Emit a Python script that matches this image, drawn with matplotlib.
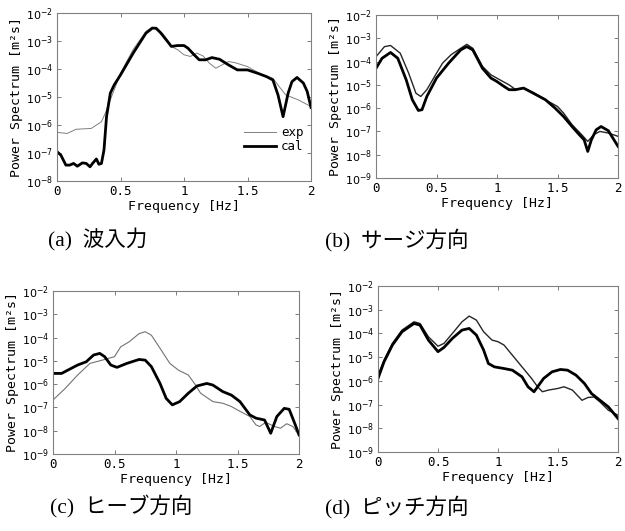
import numpy as np
import matplotlib
matplotlib.use('Agg')
from matplotlib import pyplot as plt

# (a) wave input - frequency [Hz] and log10 of power spectrum
fa_exp = [0, 0.08, 0.15, 0.27, 0.35, 0.38, 0.42, 0.5, 0.6, 0.7, 0.75, 0.8, 0.85, 0.9, 0.95, 1.0,
          1.05, 1.1, 1.15, 1.2, 1.25, 1.3, 1.35, 1.4, 1.5, 1.6, 1.7, 1.75, 1.8, 1.9, 2.0]
la_exp = [-6.26, -6.3, -6.15, -6.12, -5.88, -5.58, -5.1, -4.15, -3.3, -2.66, -2.5, -2.66, -2.95, -3.19,
          -3.31, -3.49, -3.55, -3.43, -3.53, -3.79, -3.97, -3.85, -3.73, -3.77, -3.91, -4.17, -4.33,
          -4.63, -4.92, -5.1, -5.34]
fa_cal = [0, 0.03, 0.07, 0.1, 0.13, 0.16, 0.2, 0.23, 0.26, 0.28, 0.31, 0.33, 0.35, 0.37, 0.39, 0.42,
          0.45, 0.5, 0.6, 0.7, 0.75, 0.78, 0.82, 0.87, 0.9, 0.95, 1.0, 1.03, 1.08, 1.12, 1.17, 1.22,
          1.28, 1.35, 1.42, 1.5, 1.58, 1.65, 1.7, 1.74, 1.78, 1.82, 1.85, 1.89, 1.94, 1.97, 2.0]
la_cal = [-6.95, -7.07, -7.43, -7.43, -7.37, -7.47, -7.35, -7.37, -7.49, -7.37, -7.21, -7.4, -7.37,
          -6.89, -5.7, -4.86, -4.57, -4.21, -3.43, -2.72, -2.54, -2.54, -2.72, -3.01, -3.19, -3.16,
          -3.16, -3.25, -3.49, -3.67, -3.67, -3.59, -3.65, -3.85, -4.03, -4.03, -4.15, -4.27, -4.39,
          -4.92, -5.7, -4.86, -4.45, -4.3, -4.5, -4.8, -5.37]

# (b) surge
fb_exp = [0, 0.07, 0.12, 0.2, 0.27, 0.33, 0.37, 0.42, 0.5, 0.55, 0.62, 0.68, 0.75, 0.8, 0.88, 0.95,
          1.05, 1.1, 1.15, 1.22, 1.3, 1.4, 1.5, 1.55, 1.62, 1.7, 1.75, 1.8, 1.85, 1.92, 2.0]
lb_exp = [-3.79, -3.36, -3.31, -3.64, -4.5, -5.36, -5.5, -5.21, -4.5, -4.07, -3.71, -3.5, -3.26, -3.43,
          -4.21, -4.57, -4.86, -5.0, -5.19, -5.14, -5.33, -5.64, -5.93, -6.21, -6.71, -7.14, -7.43,
          -7.14, -7.0, -7.07, -7.21]
fb_cal = [0, 0.05, 0.12, 0.18, 0.25, 0.3, 0.35, 0.38, 0.42, 0.5, 0.6, 0.7, 0.75, 0.8, 0.88, 0.95, 1.0,
          1.05, 1.1, 1.15, 1.22, 1.3, 1.4, 1.48, 1.55, 1.62, 1.68, 1.72, 1.75, 1.78, 1.82, 1.86, 1.92, 2.0]
lb_cal = [-4.29, -3.86, -3.61, -3.86, -4.79, -5.64, -6.1, -6.07, -5.5, -4.71, -4.07, -3.5, -3.36, -3.5,
          -4.29, -4.71, -4.86, -5.04, -5.21, -5.21, -5.14, -5.36, -5.64, -6.0, -6.36, -6.79, -7.14,
          -7.36, -7.86, -7.36, -6.93, -6.79, -6.97, -7.64]

# (c) heave
fc_exp = [0, 0.1, 0.2, 0.3, 0.4, 0.5, 0.55, 0.62, 0.7, 0.75, 0.8, 0.88, 0.95, 1.02, 1.1, 1.15, 1.2,
          1.3, 1.38, 1.45, 1.5, 1.6, 1.65, 1.68, 1.73, 1.8, 1.85, 1.9, 1.95, 2.0]
lc_exp = [-6.68, -6.18, -5.61, -5.11, -4.97, -4.82, -4.4, -4.18, -3.83, -3.75, -3.9, -4.54, -5.11,
          -5.4, -5.61, -5.97, -6.39, -6.75, -6.82, -6.96, -7.11, -7.39, -7.75, -7.82, -7.64, -7.82,
          -7.89, -7.7, -7.82, -8.18]
fc_cal = [0, 0.07, 0.12, 0.2, 0.27, 0.33, 0.38, 0.42, 0.47, 0.52, 0.6, 0.7, 0.75, 0.8, 0.87, 0.92,
          0.97, 1.03, 1.1, 1.17, 1.25, 1.3, 1.38, 1.45, 1.52, 1.6, 1.65, 1.72, 1.77, 1.82, 1.88, 1.92,
          1.97, 2.0]
lc_cal = [-5.54, -5.54, -5.4, -5.18, -5.04, -4.75, -4.68, -4.82, -5.18, -5.28, -5.11, -4.94, -4.97,
          -5.25, -5.97, -6.61, -6.89, -6.75, -6.39, -6.08, -5.97, -6.04, -6.32, -6.47, -6.75, -7.32,
          -7.46, -7.54, -8.11, -7.39, -7.04, -7.08, -7.75, -8.18]

# (d) pitch
fd_exp = [0, 0.05, 0.12, 0.2, 0.3, 0.35, 0.42, 0.5, 0.55, 0.62, 0.7, 0.76, 0.82, 0.88, 0.95, 1.0,
          1.05, 1.12, 1.2, 1.28, 1.33, 1.37, 1.42, 1.5, 1.55, 1.62, 1.7, 1.75, 1.8, 1.85, 1.92, 2.0]
ld_exp = [-5.76, -5.13, -4.42, -3.86, -3.51, -3.58, -4.14, -4.54, -4.42, -4.0, -3.51, -3.27, -3.44,
          -3.93, -4.28, -4.35, -4.49, -4.92, -5.41, -5.9, -6.25, -6.46, -6.39, -6.32, -6.25, -6.39,
          -6.82, -6.7, -6.68, -6.89, -7.24, -7.45]
fd_cal = [0, 0.05, 0.12, 0.2, 0.3, 0.35, 0.42, 0.5, 0.55, 0.62, 0.7, 0.76, 0.82, 0.88, 0.92, 0.97,
          1.05, 1.12, 1.2, 1.25, 1.3, 1.33, 1.38, 1.45, 1.52, 1.58, 1.65, 1.72, 1.78, 1.85, 1.92, 2.0]
ld_cal = [-5.9, -5.2, -4.49, -3.93, -3.58, -3.65, -4.28, -4.77, -4.59, -4.21, -3.86, -3.79, -4.07,
          -4.7, -5.27, -5.41, -5.48, -5.55, -5.83, -6.25, -6.46, -6.25, -5.9, -5.62, -5.52, -5.55,
          -5.76, -6.11, -6.54, -6.82, -7.1, -7.59]

captions = ['(a)  波入力', '(b)  サージ方向', '(c)  ヒーブ方向', '(d)  ピッチ方向']
xticks = [0, 0.5, 1, 1.5, 2]
xticklabels = ['0', '0.5', '1', '1.5', '2']

mono = 'DejaVu Sans Mono'

fig = plt.figure(figsize=(6.25, 5.31), dpi=100)

boxes = [[0.0912, 0.659, 0.4064, 0.3164],
         [0.6016, 0.6648, 0.3872, 0.307],
         [0.0848, 0.145, 0.3936, 0.307],
         [0.6048, 0.1488, 0.384, 0.3126]]
ylows = [-8, -9, -9, -9]
panels = [(fa_exp, la_exp, fa_cal, la_cal), (fb_exp, lb_exp, fb_cal, lb_cal),
          (fc_exp, lc_exp, fc_cal, lc_cal), (fd_exp, ld_exp, fd_cal, ld_cal)]
exp_cols = ['0.5', '0.15', '0.45', '0.15']
exp_lw = [0.7, 1.0, 0.8, 1.0]

for i in range(4):
    ax = fig.add_axes(boxes[i])
    fe, le, fcl, lcl = panels[i]
    ax.plot(fe, 10.0 ** np.array(le), color=exp_cols[i], lw=exp_lw[i], label='exp')
    ax.plot(fcl, 10.0 ** np.array(lcl), color='black', lw=2.0, label='cal')
    ax.set_yscale('log')
    ax.set_xlim(0, 2)
    ax.set_ylim(10.0 ** ylows[i], 1e-2)
    ax.set_yticks([10.0 ** k for k in range(ylows[i], -1)])
    ax.set_yticklabels(['$10^{%d}$' % k for k in range(ylows[i], -1)], fontsize=8)
    ax.minorticks_off()
    ax.set_xticks(xticks)
    ax.set_xticklabels(xticklabels, family=mono, fontsize=9)
    ax.tick_params(direction='in', top=True, right=True, length=3, width=0.6, color='0.4', pad=3)
    for s in ax.spines.values():
        s.set_color('0.5')
        s.set_linewidth(0.8)
    ax.set_xlabel('Frequency [Hz]', family=mono, fontsize=9.5, labelpad=1)
    ax.set_ylabel('Power Spectrum [m²s]', family=mono, fontsize=9.5, labelpad=2)
    if i == 0:
        ax.legend(loc='lower right', bbox_to_anchor=(1.0, 0.12), frameon=False,
                  prop={'family': mono, 'size': 9}, handlelength=2.6, handletextpad=0.4,
                  labelspacing=0.1, borderaxespad=0.2)

cap_pos = [(48, 240), (325, 240), (50, 507), (325, 507)]
for (x, y), t in zip(cap_pos, captions):
    fig.text(x / 625, 1 - y / 531, t, ha='left', va='center', fontsize=15.5,
             family=['Liberation Serif', 'Noto Sans CJK JP'])

fig.savefig('out.png', dpi=100)
